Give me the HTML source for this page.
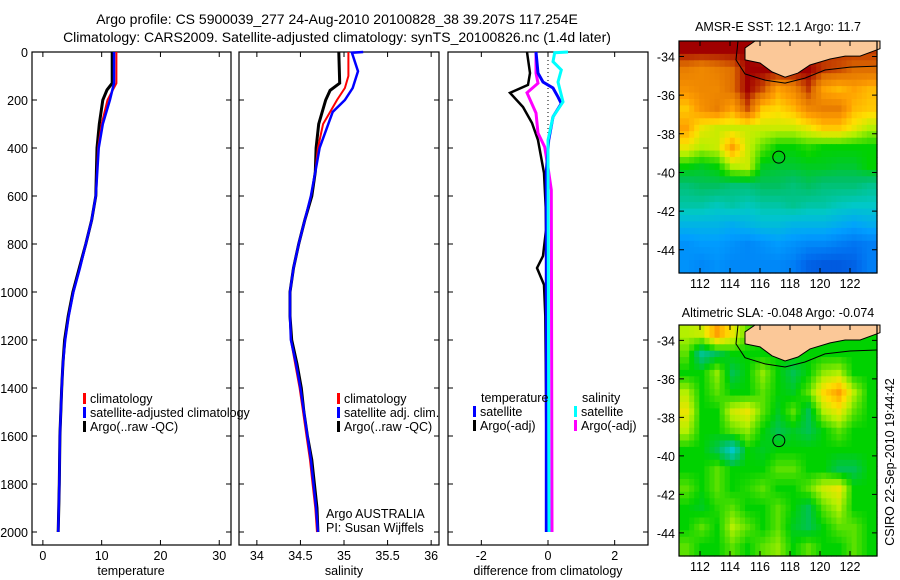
<!DOCTYPE html>
<html><head><meta charset="utf-8"><style>
body{margin:0;background:#fff}
svg{display:block;font-family:"Liberation Sans",sans-serif}
</style></head><body>
<svg id="c" width="900" height="580" viewBox="0 0 900 580">
<text x="337" y="24" font-size="14" text-anchor="middle">Argo profile: CS 5900039_277 24-Aug-2010 20100828_38 39.207S 117.254E</text>
<text x="337" y="42" font-size="14" text-anchor="middle">Climatology: CARS2009. Satellite-adjusted climatology: synTS_20100826.nc (1.4d later)</text>
<text x="778" y="31" font-size="12.5" text-anchor="middle">AMSR-E SST: 12.1  Argo: 11.7</text>
<text x="778" y="317" font-size="12.5" text-anchor="middle">Altimetric SLA: -0.048  Argo: -0.074</text>
<text transform="translate(894,462) rotate(-90)" font-size="12.5" text-anchor="middle">CSIRO 22-Sep-2010 19:44:42</text>
<g id="g"></g>
</svg>
<script>
// depth axis
const depthTicks=[0,200,400,600,800,1000,1200,1400,1600,1800,2000];
// temperature panel
const tTicks=[0,10,20,30];
const tDepthArgo=[0,130,158,200,300,400,600,700,800,900,1000,1100,1200,1300,1400,1600,1800,2000];
const tArgo=[11.8,11.8,10.9,10.2,9.6,9.2,9.0,8.3,7.3,6.2,5.1,4.3,3.7,3.4,3.2,2.9,2.8,2.6];
const tDepthClim=[0,130,200,300,400,600,700,800,900,1000,1100,1200,1300,1400,1600,1800,2000];
const tClim=[12.5,12.5,11.0,10.0,9.4,9.0,8.3,7.3,6.3,5.2,4.4,3.8,3.4,3.2,2.9,2.8,2.6];
const tSat=[12.1,12.1,11.4,10.2,9.5,9.0,8.3,7.3,6.3,5.2,4.4,3.8,3.4,3.2,2.9,2.8,2.6];
// salinity panel
const sTicks=[34,34.5,35,35.5,36];
const sTickLabels=["34","34.5","35","35.5","36"];
const sDepthArgo=[0,130,160,200,300,400,500,600,700,800,900,1000,1100,1200,1300,1400,1500,1600,1700,1800,1900,2000];
const sArgo=[34.94,34.95,34.84,34.79,34.71,34.68,34.67,34.63,34.55,34.48,34.42,34.38,34.38,34.40,34.46,34.51,34.54,34.58,34.63,34.66,34.69,34.70];
const sDepthClim=[0,100,150,200,250,300,400,500,600,700,800,900,1000,1100,1200,1300,1400,1500,1600,1700,1800,1900,2000];
const sClim=[35.05,35.05,35.01,34.92,34.84,34.76,34.70,34.67,34.62,34.55,34.48,34.42,34.38,34.38,34.39,34.44,34.49,34.53,34.57,34.61,34.64,34.67,34.69];
const sDepthSat=[0,3,80,150,200,250,300,400,500,600,700,800,900,1000,1100,1200,1300,1400,1500,1600,1700,1800,1900,2000];
const sSat=[35.22,35.09,35.16,35.10,35.01,34.87,34.82,34.72,34.67,34.62,34.55,34.48,34.42,34.38,34.38,34.39,34.45,34.5,34.54,34.58,34.62,34.65,34.68,34.70];
// difference panel
const dTicks=[-2,0,2];
const dDepthTA=[0,88,137,170,229,296,367,504,646,742,850,900,970,1100,1400,2000];
const dTArgo=[-0.63,-0.54,-0.6,-1.14,-0.75,-0.48,-0.3,-0.12,-0.07,-0.06,-0.15,-0.33,-0.12,-0.08,-0.06,-0.03];
const dDepthSA=[0,88,130,170,254,338,396,480,575,2000];
const dSArgo=[-0.36,-0.36,-0.3,-0.63,-0.36,-0.3,-0.1,0,0.1,0.12];
const dDepthTS=[0,88,125,150,187,215,270,367,500,2000];
const dTSat=[-0.36,-0.3,-0.15,0.15,0.3,0.4,0.15,0.02,-0.05,-0.05];
const dDepthSS=[0,3,40,75,125,208,270,367,2000];
const dSSat=[0.6,0.2,0.15,0.4,0.3,0.45,0.15,0,0.03];
// maps
const mapLonTicks=[112,114,116,118,120,122];
const mapLatTicks=[-34,-36,-38,-40,-42,-44];
const sstGrid=[
[0.95,0.95,0.95,0.95,0.95,0.92,0.92,0.92,0.92,0.9,0.9,0.9,0.9],
[0.82,0.8,0.82,0.85,0.95,0.95,0.95,0.95,0.95,0.9,0.88,0.85,0.85],
[0.78,0.8,0.8,0.85,0.95,0.88,0.75,0.8,0.9,0.75,0.72,0.75,0.72],
[0.7,0.78,0.82,0.75,0.88,0.7,0.68,0.72,0.8,0.82,0.82,0.72,0.7],
[0.75,0.65,0.62,0.62,0.62,0.62,0.62,0.62,0.65,0.7,0.7,0.65,0.6],
[0.65,0.6,0.62,0.75,0.62,0.55,0.5,0.5,0.52,0.5,0.5,0.5,0.5],
[0.5,0.48,0.5,0.6,0.62,0.48,0.47,0.47,0.48,0.48,0.47,0.47,0.5],
[0.42,0.44,0.44,0.42,0.42,0.44,0.44,0.42,0.44,0.42,0.42,0.42,0.4],
[0.38,0.38,0.36,0.38,0.36,0.38,0.38,0.4,0.38,0.38,0.36,0.35,0.35],
[0.3,0.3,0.3,0.28,0.3,0.32,0.32,0.3,0.3,0.3,0.28,0.26,0.28],
[0.22,0.24,0.24,0.22,0.2,0.22,0.24,0.22,0.2,0.2,0.18,0.16,0.18],
[0.22,0.2,0.22,0.2,0.2,0.2,0.2,0.18,0.12,0.1,0.1,0.12,0.18]];
const slaGrid=[
[0.6,0.62,0.75,0.65,0.55,0.5,0.5,0.5,0.5,0.5,0.5,0.5,0.5],
[0.55,0.4,0.45,0.5,0.5,0.5,0.5,0.5,0.5,0.5,0.5,0.5,0.5],
[0.5,0.5,0.58,0.45,0.5,0.58,0.5,0.45,0.5,0.58,0.6,0.5,0.5],
[0.6,0.5,0.55,0.5,0.5,0.55,0.5,0.48,0.55,0.68,0.75,0.6,0.5],
[0.65,0.5,0.5,0.62,0.65,0.55,0.48,0.55,0.45,0.6,0.65,0.55,0.5],
[0.6,0.5,0.5,0.55,0.58,0.5,0.45,0.48,0.45,0.5,0.55,0.5,0.5],
[0.5,0.5,0.45,0.35,0.5,0.48,0.5,0.5,0.5,0.5,0.5,0.5,0.5],
[0.5,0.5,0.55,0.5,0.5,0.5,0.55,0.55,0.5,0.5,0.45,0.45,0.5],
[0.55,0.5,0.55,0.5,0.52,0.55,0.5,0.5,0.55,0.62,0.65,0.5,0.5],
[0.5,0.48,0.52,0.55,0.5,0.5,0.55,0.5,0.45,0.55,0.6,0.5,0.5],
[0.5,0.55,0.5,0.6,0.55,0.5,0.55,0.48,0.45,0.5,0.55,0.55,0.5],
[0.55,0.5,0.5,0.55,0.5,0.55,0.58,0.5,0.55,0.5,0.5,0.55,0.5]];
const landLon=[115.67,115.0,115.0,116.0,116.8,117.67,118.53,119.33,120.67,121.67,122.67,124,124];
const landLat=[-33.2,-33.56,-34.18,-34.34,-34.8,-35.07,-34.86,-34.44,-34.13,-33.98,-33.98,-33.6,-33.2];
const contLon=[114.53,114.4,115.0,116.33,117.67,119.0,120.33,122,123.8];
const contLat=[-33.2,-34.18,-34.9,-35.22,-35.38,-35.12,-34.7,-34.55,-34.5];
const floatLon=117.254, floatLat=-39.207;

const NS='http://www.w3.org/2000/svg';
const G=document.getElementById('g');
function mk(tag,at,parent){const e=document.createElementNS(NS,tag);for(const k in at)e.setAttribute(k,at[k]);(parent||G).appendChild(e);return e;}
const Y0=52,Y1=545,DMAX=2054;
const yD=d=>Y0+d*(Y1-Y0)/DMAX;
function panel(x0,x1,vmin,vmax,name){
  const sx=v=>x0+(v-vmin)*(x1-x0)/(vmax-vmin);
  const r=mk('rect',{x:x0,y:Y0,width:x1-x0,height:Y1-Y0,fill:'none',stroke:'#000','stroke-width':1.2});
  
  
  depthTicks.forEach(d=>{
    const t=mk('path',{d:`M${x0},${yD(d)}h5M${x1},${yD(d)}h-5`,stroke:'#000'});
    
    
  });
  return sx;
}
function series(sx,vals,deps,color,w,name){
  const pts=vals.map((v,i)=>sx(v).toFixed(1)+','+yD(deps[i]).toFixed(1)).join(' ');
  const p=mk('polyline',{points:pts,fill:'none',stroke:color,'stroke-width':w,'stroke-linejoin':'miter'});
  
  
}
function xticks(sx,ticks,labels,name,label){
  ticks.forEach((v,i)=>{
    const t=mk('path',{d:`M${sx(v)},${Y1}v-5M${sx(v)},${Y0}v5`,stroke:'#000'});
    
    
    const tx=mk('text',{x:sx(v),y:Y1+15,'font-size':12.5,'text-anchor':'middle'});
    tx.textContent=labels[i];
    
    
  });
  const l=mk('text',{x:(sx(ticks[0])+sx(ticks[ticks.length-1]))/2,y:Y1+30,'font-size':12.5,'text-anchor':'middle'});
  l.textContent=label;
  
  
}
function legend(x,y,color,txt,name){
  if(color){const m=mk('rect',{x:x,y:y-10,width:3,height:11,fill:color});
    
    }
  const t=mk('text',{x:x+7,y:y,'font-size':12.5});
  t.textContent=txt;
  
  
}
// panel 1
const sx1=panel(32,231,-1.85,32,'temperature-panel');
depthTicks.forEach(d=>{const t=mk('text',{x:28,y:yD(d)+5,'font-size':12.5,'text-anchor':'end'});t.textContent=d;
  
  });
series(sx1,tArgo,tDepthArgo,'#000',3,'temperature-argo-line');
series(sx1,tClim,tDepthClim,'#f00',2,'temperature-climatology-line');
series(sx1,tSat,tDepthClim,'#00f',2.5,'temperature-satellite-line');
xticks(sx1,tTicks,tTicks.map(String),'temperature','temperature');
legend(83,403,'#f00','climatology','temperature-legend-climatology');
legend(83,417,'#00f','satellite-adjusted climatology','temperature-legend-satellite');
legend(83,431,'#000','Argo(..raw -QC)','temperature-legend-argo');
// panel 2
const sx2=panel(239,439,33.795,36.09,'salinity-panel');
series(sx2,sArgo,sDepthArgo,'#000',3,'salinity-argo-line');
series(sx2,sClim,sDepthClim,'#f00',2,'salinity-climatology-line');
series(sx2,sSat,sDepthSat,'#00f',2.5,'salinity-satellite-line');
xticks(sx2,sTicks,sTickLabels,'salinity','salinity');
legend(337,403,'#f00','climatology','salinity-legend-climatology');
legend(337,417,'#00f','satellite adj. clim.','salinity-legend-satellite');
legend(337,431,'#000','Argo(..raw -QC)','salinity-legend-argo');
legend(319,518,null,'Argo AUSTRALIA','argo-australia-note');
legend(319,532,null,'PI: Susan Wijffels','pi-note');
// panel 3
const sx3=panel(448,648,-3,3,'difference-panel');
const dz=mk('line',{x1:sx3(0),x2:sx3(0),y1:Y0,y2:yD(380),stroke:'#000','stroke-dasharray':'1,3'});


series(sx3,dTArgo,dDepthTA,'#000',2.5,'temperature-argo-difference-line');
series(sx3,dSArgo,dDepthSA,'#f0f',3,'salinity-argo-difference-line');
series(sx3,dTSat,dDepthTS,'#00f',3,'temperature-satellite-difference-line');
series(sx3,dSSat,dDepthSS,'#0ff',3,'salinity-satellite-difference-line');
xticks(sx3,dTicks,dTicks.map(String),'difference','difference from climatology');
legend(474,402,null,'temperature','difference-legend-temperature-header');
legend(473,416,'#00f','satellite','difference-legend-temperature-satellite');
legend(473,430,'#000','Argo(-adj)','difference-legend-temperature-argo');
legend(575,402,null,'salinity','difference-legend-salinity-header');
legend(574,416,'#0ff','satellite','difference-legend-salinity-satellite');
legend(574,430,'#f0f','Argo(-adj)','difference-legend-salinity-argo');
// colormap
const stops=[[0,[0,48,192]],[0.15,[0,112,240]],[0.25,[0,160,255]],[0.35,[0,200,200]],[0.44,[0,192,96]],[0.5,[0,210,0]],[0.6,[180,240,0]],[0.67,[255,224,0]],[0.75,[255,160,0]],[0.85,[224,112,0]],[0.95,[160,0,0]],[1,[150,0,0]]];
function cmap(v){for(let i=1;i<stops.length;i++){if(v<=stops[i][0]){const a=stops[i-1],b=stops[i],f=(v-a[0])/(b[0]-a[0]);return 'rgb('+a[1].map((c,k)=>Math.round(c+(b[1][k]-c)*f)).join(',')+')';}}return 'rgb(150,0,0)';}
function sample(grid,r,c){
  // bilinear interpolation between cell centres
  const R=grid.length,C=grid[0].length;
  r=Math.max(0,Math.min(R-1,r));c=Math.max(0,Math.min(C-1,c));
  const r0=Math.floor(r),c0=Math.floor(c),r1=Math.min(R-1,r0+1),c1=Math.min(C-1,c0+1),fr=r-r0,fc=c-c0;
  return grid[r0][c0]*(1-fr)*(1-fc)+grid[r0][c1]*(1-fr)*fc+grid[r1][c0]*fr*(1-fc)+grid[r1][c1]*fr*fc;
}
function map(top,bot,grid,name){
  const L=679,R=877,lon0=110.6,lon1=123.8,lat0=-33.2,lat1=-45.2;
  const mx=lo=>L+(lo-lon0)*(R-L)/(lon1-lon0);
  const my=la=>top+(la-lat0)*(bot-top)/(lat1-lat0);
  const SUB=3,nr=grid.length*SUB,nc=grid[0].length*SUB;
  const cw=(R-L)/nc,ch=(bot-top)/nr;
  for(let r=0;r<nr;r++)for(let c=0;c<nc;c++){
    const v=sample(grid,(r+0.5)/SUB-0.5,(c+0.5)/SUB-0.5);
    const cell=mk('rect',{x:(L+c*cw).toFixed(1),y:(top+r*ch).toFixed(1),width:(cw+0.6).toFixed(1),height:(ch+0.6).toFixed(1),fill:cmap(v)});
    
    
  }
  const land=mk('polygon',{points:landLon.map((lo,i)=>mx(lo).toFixed(1)+','+my(landLat[i]).toFixed(1)).join(' '),fill:'#fbc898',stroke:'#000','stroke-width':1});
  
  
  const cont=mk('polyline',{points:contLon.map((lo,i)=>mx(lo).toFixed(1)+','+my(contLat[i]).toFixed(1)).join(' '),fill:'none',stroke:'#000','stroke-width':1});
  
  
  const ci=mk('circle',{cx:mx(floatLon),cy:my(floatLat),r:6,fill:'none',stroke:'#000'});
  
  
  const fr=mk('rect',{x:L,y:top,width:R-L,height:bot-top,fill:'none',stroke:'#000','stroke-width':1.2});
  
  
  mapLonTicks.forEach(lo=>{
    const t=mk('path',{d:`M${mx(lo)},${top}v5M${mx(lo)},${bot}v-5`,stroke:'#000'});
    
    
    const tx=mk('text',{x:mx(lo),y:bot+15,'font-size':12.5,'text-anchor':'middle'});tx.textContent=lo;
    
    
  });
  mapLatTicks.forEach(la=>{
    const t=mk('path',{d:`M${L},${my(la)}h5M${R},${my(la)}h-5`,stroke:'#000'});
    
    
    const tx=mk('text',{x:L-4,y:my(la)+5,'font-size':12.5,'text-anchor':'end'});tx.textContent=la;
    
    
  });
}
map(41,273,sstGrid,'sst-map');
map(325,556,slaGrid,'sla-map');
</script>
</body></html>
